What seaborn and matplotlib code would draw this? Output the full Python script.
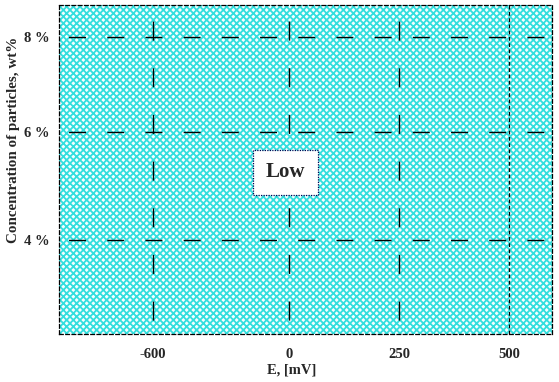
import numpy as np
import matplotlib
matplotlib.use("Agg")
import matplotlib.pyplot as plt
import seaborn as sns

# data
x_ticks = [-600, 0, 250, 500]
x_ticklabels = ["-600", "0", "250", "500"]
y_ticks = [4, 6, 8]
y_ticklabels = ["4 %", "6 %", "8 %"]
x_limits = [-1015, 598]
y_limits = [2.26, 8.67]
region_x = [-1015, 500, 598]
region_lo = [2.26, 2.26, 2.26]
region_hi = [8.67, 8.67, 8.67]
boundary_x = 500
label_text = "Low"
label_pos = (-15, 5.25)

sns.set_style("white")
plt.rcParams["font.family"] = ["Liberation Serif", "DejaVu Serif"]
plt.rcParams["font.weight"] = "bold"
plt.rcParams["hatch.linewidth"] = 1.3

fig = plt.figure(figsize=(5.59, 3.82), dpi=100)
ax = fig.add_axes([59 / 559, 48 / 382, (552 - 59) / 559, (334 - 5) / 382])

# the axes in the picture are not linear: piecewise scales
xk_d = [-3000, 0, 2000]
xk_u = [-3000 * 0.2267, 0, 2000 * 0.44]
yk_d = [0, 4, 6, 8, 12]
yk_u = [-216, 0, 108, 203, 393]
ax.set_xscale("function", functions=(lambda v: np.interp(v, xk_d, xk_u),
                                     lambda v: np.interp(v, xk_u, xk_d)))
ax.set_yscale("function", functions=(lambda v: np.interp(v, yk_d, yk_u),
                                     lambda v: np.interp(v, yk_u, yk_d)))

ax.fill_between(region_x, region_lo, region_hi, facecolor="#f4ffff",
                edgecolor="#33dede", linewidth=0, hatch="xxxxx", zorder=1)
ax.axvline(boundary_x, color="black", lw=0.9, ls=(0, (3, 2)), zorder=3)

# long-dash grid
for xv in x_ticks[:3]:
    ax.axvline(xv, color="black", lw=1, ls=(23.6, (13.7, 19.9)), zorder=3)
for yv in y_ticks:
    ax.axhline(yv, color="black", lw=1, ls=(20.6, (12.2, 15.3)), zorder=3)

ax.text(label_pos[0], label_pos[1], label_text, fontsize=15, fontweight="bold",
        ha="center", va="center", zorder=5,
        bbox=dict(boxstyle="square,pad=0.6", facecolor="white",
                  edgecolor="#000050", linestyle=(0, (1, 1)), linewidth=0.9))

ax.set_xlim(x_limits)
ax.set_ylim(y_limits)
ax.set_xticks(x_ticks)
ax.set_xticklabels(x_ticklabels)
ax.set_yticks(y_ticks)
ax.set_yticklabels(y_ticklabels)
ax.tick_params(axis="both", length=0, labelsize=10.5)
ax.tick_params(axis="x", pad=10)
ax.tick_params(axis="y", pad=7)
ax.set_xlabel("E, [mV]", fontsize=10.5, fontweight="bold")
ax.xaxis.set_label_coords(0.472, -0.09)
ax.set_ylabel("Concentration of particles, wt%", fontsize=10.8,
              fontweight="bold")
ax.yaxis.set_label_coords(-0.079, 0.59)

for sp in ax.spines.values():
    sp.set_linestyle((0, (3, 2)))
    sp.set_linewidth(0.9)
    sp.set_color("black")
    sp.set_zorder(4)

fig.savefig("out.png", dpi=100)
